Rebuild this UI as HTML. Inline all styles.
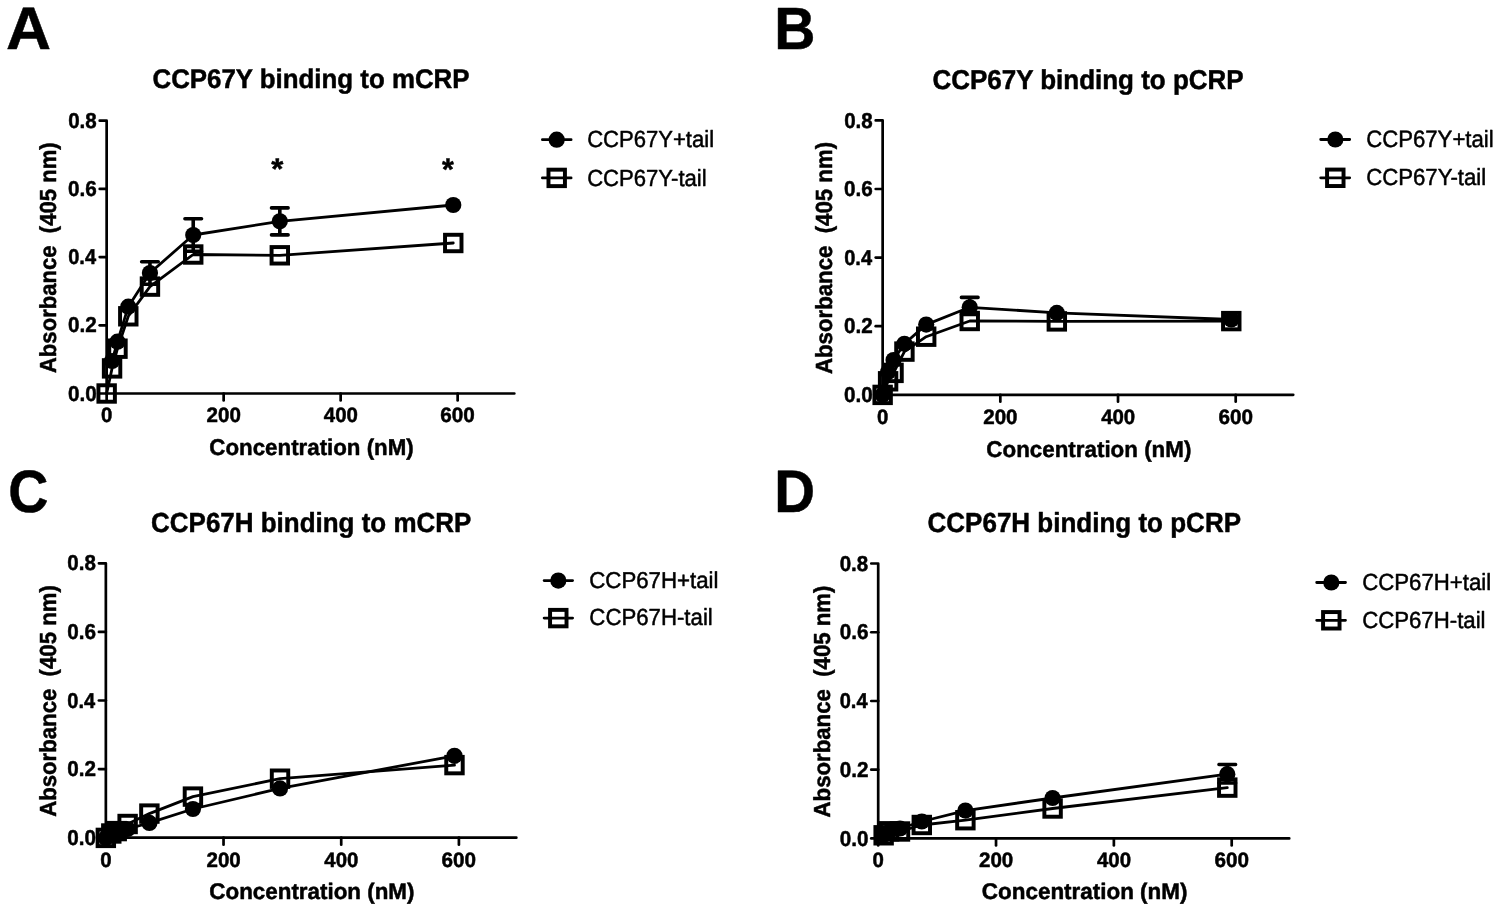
<!DOCTYPE html>
<html><head><meta charset="utf-8"><title>Figure</title>
<style>
html,body{margin:0;padding:0;background:#fff;}
svg{display:block;}
text{font-family:"Liberation Sans",sans-serif;text-rendering:geometricPrecision;fill:#000;stroke:#000;stroke-linejoin:round;}
svg{filter:grayscale(1);}
</style></head>
<body>
<svg width="1500" height="912" viewBox="0 0 1500 912">
<rect width="1500" height="912" fill="#fff"/>
<text transform="matrix(1.03786 0 0 1 5.98 49.35)" font-size="60.147" font-weight="bold" stroke-width="0.5">A</text>
<text transform="matrix(0.95970 0 0 1 152.52 87.85)" font-size="26.957" font-weight="bold" stroke-width="0.5">CCP67Y binding to mCRP</text>
<text transform="matrix(0.98014 0 0 1 209.36 454.85)" font-size="22.754" font-weight="bold" stroke-width="0.5">Concentration (nM)</text>
<text transform="matrix(0 -0.95357 1 0 55.55 373.11)" font-size="23.188" font-weight="bold" stroke-width="0.5" style="white-space:pre">Absorbance  (405 nm)</text>
<g fill="none" stroke="#000" stroke-width="2.7" stroke-linecap="round" stroke-linejoin="round"><path d="M99.70,120.70H106.65V393.50H514.35" /><path d="M99.70,393.50H106.65" /><path d="M99.70,325.30H106.65" /><path d="M99.70,257.10H106.65" /><path d="M99.70,188.90H106.65" /><path d="M106.65,393.50V400.45" /><path d="M223.65,393.50V400.45" /><path d="M340.65,393.50V400.45" /><path d="M457.65,393.50V400.45" /></g>
<text transform="matrix(0.95999 0 0 1 68.12 400.63)" font-size="21.549" font-weight="bold" stroke-width="0.5">0.0</text>
<text transform="matrix(0.95999 0 0 1 68.12 332.43)" font-size="21.549" font-weight="bold" stroke-width="0.5">0.2</text>
<text transform="matrix(0.93154 0 0 1 68.15 264.23)" font-size="21.549" font-weight="bold" stroke-width="0.5">0.4</text>
<text transform="matrix(0.95999 0 0 1 68.12 196.03)" font-size="21.549" font-weight="bold" stroke-width="0.5">0.6</text>
<text transform="matrix(0.95271 0 0 1 68.13 127.83)" font-size="21.549" font-weight="bold" stroke-width="0.5">0.8</text>
<text transform="matrix(0.97987 0 0 1 101.03 422.34)" font-size="20.845" font-weight="bold" stroke-width="0.5">0</text>
<text transform="matrix(0.98644 0 0 1 206.58 422.34)" font-size="20.845" font-weight="bold" stroke-width="0.5">200</text>
<text transform="matrix(0.98032 0 0 1 323.79 422.34)" font-size="20.845" font-weight="bold" stroke-width="0.5">400</text>
<text transform="matrix(0.99265 0 0 1 440.37 422.34)" font-size="20.845" font-weight="bold" stroke-width="0.5">600</text>
<g fill="none" stroke="#000" stroke-width="2.8" stroke-linejoin="round" stroke-linecap="round"><polyline points="106.65,393.50 112.06,368.40 117.47,348.70 128.30,316.30 149.94,286.60 193.23,254.50 279.81,255.30 453.26,243.00"/><polyline points="112.06,361.00 117.47,341.70 128.30,306.70 149.94,273.00 193.23,235.00 279.81,221.30 453.26,205.00"/></g>
<g fill="none" stroke="#000" stroke-width="3.6" stroke-linecap="round"><path d="M149.94,261.80V284.20M141.64,261.80H158.24M141.64,284.20H158.24"/><path d="M193.23,218.70V251.30M184.93,218.70H201.53M184.93,251.30H201.53"/><path d="M279.81,207.90V234.90M271.51,207.90H288.11M271.51,234.90H288.11"/></g>
<rect x="98.43" y="385.27" width="16.45" height="16.45" fill="none" stroke="#000" stroke-width="3.95"/><rect x="103.84" y="360.17" width="16.45" height="16.45" fill="none" stroke="#000" stroke-width="3.95"/><rect x="109.25" y="340.47" width="16.45" height="16.45" fill="none" stroke="#000" stroke-width="3.95"/><rect x="120.07" y="308.07" width="16.45" height="16.45" fill="none" stroke="#000" stroke-width="3.95"/><rect x="141.72" y="278.38" width="16.45" height="16.45" fill="none" stroke="#000" stroke-width="3.95"/><rect x="185.01" y="246.28" width="16.45" height="16.45" fill="none" stroke="#000" stroke-width="3.95"/><rect x="271.58" y="247.08" width="16.45" height="16.45" fill="none" stroke="#000" stroke-width="3.95"/><rect x="445.04" y="234.78" width="16.45" height="16.45" fill="none" stroke="#000" stroke-width="3.95"/><circle cx="112.06" cy="361.00" r="8.1"/><circle cx="117.47" cy="341.70" r="8.1"/><circle cx="128.30" cy="306.70" r="8.1"/><circle cx="149.94" cy="273.00" r="8.1"/><circle cx="193.23" cy="235.00" r="8.1"/><circle cx="279.81" cy="221.30" r="8.1"/><circle cx="453.26" cy="205.00" r="8.1"/>
<text transform="matrix(1.04359 0 0 1 271.25 178.96)" font-size="29.730" font-weight="bold" stroke-width="0.5">*</text>
<text transform="matrix(0.96508 0 0 1 441.95 179.68)" font-size="31.351" font-weight="bold" stroke-width="0.5">*</text>
<g stroke="#000" stroke-width="2.8" stroke-linecap="round" fill="none"><path d="M542.40,139.70H571.10M542.40,177.90H571.10"/><rect x="548.48" y="169.68" width="16.45" height="16.45" stroke-width="3.95"/></g><circle cx="556.70" cy="139.70" r="8.1"/>
<text transform="matrix(0.94312 0 0 1 587.15 147.25)" font-size="23.406" font-weight="normal" stroke-width="0.5">CCP67Y+tail</text>
<text transform="matrix(0.94707 0 0 1 587.15 185.55)" font-size="23.333" font-weight="normal" stroke-width="0.5">CCP67Y-tail</text>
<text transform="matrix(0.95776 0 0 1 774.16 48.95)" font-size="59.565" font-weight="bold" stroke-width="0.5">B</text>
<text transform="matrix(0.95376 0 0 1 932.41 88.65)" font-size="27.246" font-weight="bold" stroke-width="0.5">CCP67Y binding to pCRP</text>
<text transform="matrix(0.98305 0 0 1 986.36 456.75)" font-size="22.754" font-weight="bold" stroke-width="0.5">Concentration (nM)</text>
<text transform="matrix(0 -0.95220 1 0 832.35 374.02)" font-size="23.333" font-weight="bold" stroke-width="0.5" style="white-space:pre">Absorbance  (405 nm)</text>
<g fill="none" stroke="#000" stroke-width="2.7" stroke-linecap="round" stroke-linejoin="round"><path d="M875.70,120.40H882.65V394.80H1293.25" /><path d="M875.70,394.80H882.65" /><path d="M875.70,326.20H882.65" /><path d="M875.70,257.60H882.65" /><path d="M875.70,189.00H882.65" /><path d="M882.65,394.80V401.75" /><path d="M1000.33,394.80V401.75" /><path d="M1118.02,394.80V401.75" /><path d="M1235.70,394.80V401.75" /></g>
<text transform="matrix(0.95999 0 0 1 844.12 401.93)" font-size="21.549" font-weight="bold" stroke-width="0.5">0.0</text>
<text transform="matrix(0.95999 0 0 1 844.12 333.33)" font-size="21.549" font-weight="bold" stroke-width="0.5">0.2</text>
<text transform="matrix(0.93154 0 0 1 844.15 264.73)" font-size="21.549" font-weight="bold" stroke-width="0.5">0.4</text>
<text transform="matrix(0.95999 0 0 1 844.12 196.13)" font-size="21.549" font-weight="bold" stroke-width="0.5">0.6</text>
<text transform="matrix(0.95271 0 0 1 844.13 127.53)" font-size="21.549" font-weight="bold" stroke-width="0.5">0.8</text>
<text transform="matrix(0.97987 0 0 1 877.03 423.64)" font-size="20.845" font-weight="bold" stroke-width="0.5">0</text>
<text transform="matrix(0.98644 0 0 1 983.27 423.64)" font-size="20.845" font-weight="bold" stroke-width="0.5">200</text>
<text transform="matrix(0.98032 0 0 1 1101.16 423.64)" font-size="20.845" font-weight="bold" stroke-width="0.5">400</text>
<text transform="matrix(0.99265 0 0 1 1218.42 423.64)" font-size="20.845" font-weight="bold" stroke-width="0.5">600</text>
<g fill="none" stroke="#000" stroke-width="2.8" stroke-linejoin="round" stroke-linecap="round"><polyline points="882.65,394.90 888.09,381.30 893.54,372.90 904.42,351.60 926.19,336.70 969.74,321.00 1056.82,321.40 1231.29,321.10"/><polyline points="882.65,394.80 888.09,372.00 893.54,360.00 904.42,343.80 926.19,324.60 969.74,307.30 1056.82,312.90 1231.29,319.50"/></g>
<g fill="none" stroke="#000" stroke-width="3.6" stroke-linecap="round"><path d="M969.74,297.40V314.50M961.44,297.40H978.04M961.44,314.50H978.04"/></g>
<rect x="874.42" y="386.67" width="16.45" height="16.45" fill="none" stroke="#000" stroke-width="3.95"/><rect x="879.87" y="373.07" width="16.45" height="16.45" fill="none" stroke="#000" stroke-width="3.95"/><rect x="885.31" y="364.67" width="16.45" height="16.45" fill="none" stroke="#000" stroke-width="3.95"/><rect x="896.20" y="343.38" width="16.45" height="16.45" fill="none" stroke="#000" stroke-width="3.95"/><rect x="917.97" y="328.47" width="16.45" height="16.45" fill="none" stroke="#000" stroke-width="3.95"/><rect x="961.51" y="312.77" width="16.45" height="16.45" fill="none" stroke="#000" stroke-width="3.95"/><rect x="1048.60" y="313.17" width="16.45" height="16.45" fill="none" stroke="#000" stroke-width="3.95"/><rect x="1223.06" y="312.88" width="16.45" height="16.45" fill="none" stroke="#000" stroke-width="3.95"/><circle cx="882.65" cy="394.80" r="8.1"/><circle cx="888.09" cy="372.00" r="8.1"/><circle cx="893.54" cy="360.00" r="8.1"/><circle cx="904.42" cy="343.80" r="8.1"/><circle cx="926.19" cy="324.60" r="8.1"/><circle cx="969.74" cy="307.30" r="8.1"/><circle cx="1056.82" cy="312.90" r="8.1"/><circle cx="1231.29" cy="319.50" r="8.1"/>
<g stroke="#000" stroke-width="2.8" stroke-linecap="round" fill="none"><path d="M1320.70,139.50H1349.70M1320.70,177.80H1349.70"/><rect x="1327.08" y="169.58" width="16.45" height="16.45" stroke-width="3.95"/></g><circle cx="1335.30" cy="139.50" r="8.1"/>
<text transform="matrix(0.93894 0 0 1 1366.14 146.55)" font-size="23.623" font-weight="normal" stroke-width="0.5">CCP67Y+tail</text>
<text transform="matrix(0.95112 0 0 1 1366.14 185.45)" font-size="23.333" font-weight="normal" stroke-width="0.5">CCP67Y-tail</text>
<text transform="matrix(0.93001 0 0 1 8.23 511.75)" font-size="59.718" font-weight="bold" stroke-width="0.5">C</text>
<text transform="matrix(0.94344 0 0 1 151.11 532.35)" font-size="27.536" font-weight="bold" stroke-width="0.5">CCP67H binding to mCRP</text>
<text transform="matrix(0.99032 0 0 1 209.35 898.75)" font-size="22.609" font-weight="bold" stroke-width="0.5">Concentration (nM)</text>
<text transform="matrix(0 -0.95351 1 0 55.50 816.82)" font-size="23.261" font-weight="bold" stroke-width="0.5" style="white-space:pre">Absorbance  (405 nm)</text>
<g fill="none" stroke="#000" stroke-width="2.7" stroke-linecap="round" stroke-linejoin="round"><path d="M98.90,563.30H105.85V837.70H516.35" /><path d="M98.90,837.70H105.85" /><path d="M98.90,769.10H105.85" /><path d="M98.90,700.50H105.85" /><path d="M98.90,631.90H105.85" /><path d="M105.85,837.70V844.65" /><path d="M223.53,837.70V844.65" /><path d="M341.22,837.70V844.65" /><path d="M458.90,837.70V844.65" /></g>
<text transform="matrix(0.95999 0 0 1 67.32 844.83)" font-size="21.549" font-weight="bold" stroke-width="0.5">0.0</text>
<text transform="matrix(0.95999 0 0 1 67.32 776.23)" font-size="21.549" font-weight="bold" stroke-width="0.5">0.2</text>
<text transform="matrix(0.93154 0 0 1 67.35 707.63)" font-size="21.549" font-weight="bold" stroke-width="0.5">0.4</text>
<text transform="matrix(0.95999 0 0 1 67.32 639.03)" font-size="21.549" font-weight="bold" stroke-width="0.5">0.6</text>
<text transform="matrix(0.95271 0 0 1 67.33 570.43)" font-size="21.549" font-weight="bold" stroke-width="0.5">0.8</text>
<text transform="matrix(0.97987 0 0 1 100.23 866.54)" font-size="20.845" font-weight="bold" stroke-width="0.5">0</text>
<text transform="matrix(0.98644 0 0 1 206.47 866.54)" font-size="20.845" font-weight="bold" stroke-width="0.5">200</text>
<text transform="matrix(0.98032 0 0 1 324.36 866.54)" font-size="20.845" font-weight="bold" stroke-width="0.5">400</text>
<text transform="matrix(0.99265 0 0 1 441.62 866.54)" font-size="20.845" font-weight="bold" stroke-width="0.5">600</text>
<g fill="none" stroke="#000" stroke-width="2.8" stroke-linejoin="round" stroke-linecap="round"><polyline points="105.85,837.90 111.29,833.50 116.74,831.10 127.62,824.00 149.39,813.60 192.94,796.60 280.02,778.70 454.49,765.10"/><polyline points="105.85,838.00 111.29,835.00 116.74,832.00 127.62,829.00 149.39,822.90 192.94,809.00 280.02,788.40 454.49,755.80"/></g>
<rect x="97.62" y="829.67" width="16.45" height="16.45" fill="none" stroke="#000" stroke-width="3.95"/><rect x="103.07" y="825.27" width="16.45" height="16.45" fill="none" stroke="#000" stroke-width="3.95"/><rect x="108.51" y="822.88" width="16.45" height="16.45" fill="none" stroke="#000" stroke-width="3.95"/><rect x="119.40" y="815.77" width="16.45" height="16.45" fill="none" stroke="#000" stroke-width="3.95"/><rect x="141.17" y="805.38" width="16.45" height="16.45" fill="none" stroke="#000" stroke-width="3.95"/><rect x="184.71" y="788.38" width="16.45" height="16.45" fill="none" stroke="#000" stroke-width="3.95"/><rect x="271.80" y="770.48" width="16.45" height="16.45" fill="none" stroke="#000" stroke-width="3.95"/><rect x="446.26" y="756.88" width="16.45" height="16.45" fill="none" stroke="#000" stroke-width="3.95"/><circle cx="105.85" cy="838.00" r="8.1"/><circle cx="111.29" cy="835.00" r="8.1"/><circle cx="116.74" cy="832.00" r="8.1"/><circle cx="127.62" cy="829.00" r="8.1"/><circle cx="149.39" cy="822.90" r="8.1"/><circle cx="192.94" cy="809.00" r="8.1"/><circle cx="280.02" cy="788.40" r="8.1"/><circle cx="454.49" cy="755.80" r="8.1"/>
<g stroke="#000" stroke-width="2.8" stroke-linecap="round" fill="none"><path d="M544.10,580.60H572.60M544.10,618.10H572.60"/><rect x="550.07" y="609.88" width="16.45" height="16.45" stroke-width="3.95"/></g><circle cx="558.30" cy="580.60" r="8.1"/>
<text transform="matrix(0.96631 0 0 1 589.24 587.75)" font-size="23.043" font-weight="normal" stroke-width="0.5">CCP67H+tail</text>
<text transform="matrix(0.94952 0 0 1 589.34 625.40)" font-size="23.406" font-weight="normal" stroke-width="0.5">CCP67H-tail</text>
<text transform="matrix(0.94035 0 0 1 774.19 512.05)" font-size="60.145" font-weight="bold" stroke-width="0.5">D</text>
<text transform="matrix(0.94518 0 0 1 927.51 532.35)" font-size="27.536" font-weight="bold" stroke-width="0.5">CCP67H binding to pCRP</text>
<text transform="matrix(0.99276 0 0 1 981.85 899.35)" font-size="22.609" font-weight="bold" stroke-width="0.5">Concentration (nM)</text>
<text transform="matrix(0 -0.95773 1 0 830.45 817.42)" font-size="23.188" font-weight="bold" stroke-width="0.5" style="white-space:pre">Absorbance  (405 nm)</text>
<g fill="none" stroke="#000" stroke-width="2.7" stroke-linecap="round" stroke-linejoin="round"><path d="M871.25,563.50H878.20V838.45H1289.25" /><path d="M871.25,838.45H878.20" /><path d="M871.25,769.71H878.20" /><path d="M871.25,700.98H878.20" /><path d="M871.25,632.24H878.20" /><path d="M878.20,838.45V845.40" /><path d="M996.03,838.45V845.40" /><path d="M1113.87,838.45V845.40" /><path d="M1231.70,838.45V845.40" /></g>
<text transform="matrix(0.95999 0 0 1 839.67 845.58)" font-size="21.549" font-weight="bold" stroke-width="0.5">0.0</text>
<text transform="matrix(0.95999 0 0 1 839.67 776.85)" font-size="21.549" font-weight="bold" stroke-width="0.5">0.2</text>
<text transform="matrix(0.93154 0 0 1 839.70 708.11)" font-size="21.549" font-weight="bold" stroke-width="0.5">0.4</text>
<text transform="matrix(0.95999 0 0 1 839.67 639.37)" font-size="21.549" font-weight="bold" stroke-width="0.5">0.6</text>
<text transform="matrix(0.95271 0 0 1 839.68 570.63)" font-size="21.549" font-weight="bold" stroke-width="0.5">0.8</text>
<text transform="matrix(0.97987 0 0 1 872.58 867.29)" font-size="20.845" font-weight="bold" stroke-width="0.5">0</text>
<text transform="matrix(0.98644 0 0 1 978.97 867.29)" font-size="20.845" font-weight="bold" stroke-width="0.5">200</text>
<text transform="matrix(0.98032 0 0 1 1097.01 867.29)" font-size="20.845" font-weight="bold" stroke-width="0.5">400</text>
<text transform="matrix(0.99265 0 0 1 1214.42 867.29)" font-size="20.845" font-weight="bold" stroke-width="0.5">600</text>
<g fill="none" stroke="#000" stroke-width="2.8" stroke-linejoin="round" stroke-linecap="round"><polyline points="883.65,835.30 889.10,831.30 900.00,831.50 921.80,825.00 965.40,820.20 1052.59,808.50 1227.28,787.60"/><polyline points="883.65,835.00 889.10,832.00 900.00,828.50 921.80,821.50 965.40,810.60 1052.59,798.00 1227.28,774.20"/></g>
<g fill="none" stroke="#000" stroke-width="3.6" stroke-linecap="round"><path d="M1227.28,764.50V783.00M1218.98,764.50H1235.58M1218.98,783.00H1235.58"/></g>
<rect x="875.42" y="827.07" width="16.45" height="16.45" fill="none" stroke="#000" stroke-width="3.95"/><rect x="880.87" y="823.07" width="16.45" height="16.45" fill="none" stroke="#000" stroke-width="3.95"/><rect x="891.77" y="823.27" width="16.45" height="16.45" fill="none" stroke="#000" stroke-width="3.95"/><rect x="913.57" y="816.77" width="16.45" height="16.45" fill="none" stroke="#000" stroke-width="3.95"/><rect x="957.17" y="811.98" width="16.45" height="16.45" fill="none" stroke="#000" stroke-width="3.95"/><rect x="1044.37" y="800.27" width="16.45" height="16.45" fill="none" stroke="#000" stroke-width="3.95"/><rect x="1219.06" y="779.38" width="16.45" height="16.45" fill="none" stroke="#000" stroke-width="3.95"/><circle cx="883.65" cy="835.00" r="8.1"/><circle cx="889.10" cy="832.00" r="8.1"/><circle cx="900.00" cy="828.50" r="8.1"/><circle cx="921.80" cy="821.50" r="8.1"/><circle cx="965.40" cy="810.60" r="8.1"/><circle cx="1052.59" cy="798.00" r="8.1"/><circle cx="1227.28" cy="774.20" r="8.1"/>
<g stroke="#000" stroke-width="2.8" stroke-linecap="round" fill="none"><path d="M1316.70,582.50H1345.50M1316.70,620.30H1345.50"/><rect x="1323.08" y="612.07" width="16.45" height="16.45" stroke-width="3.95"/></g><circle cx="1331.30" cy="582.50" r="8.1"/>
<text transform="matrix(0.95280 0 0 1 1362.14 590.15)" font-size="23.333" font-weight="normal" stroke-width="0.5">CCP67H+tail</text>
<text transform="matrix(0.95168 0 0 1 1362.14 627.55)" font-size="23.333" font-weight="normal" stroke-width="0.5">CCP67H-tail</text>
</svg>
</body></html>
